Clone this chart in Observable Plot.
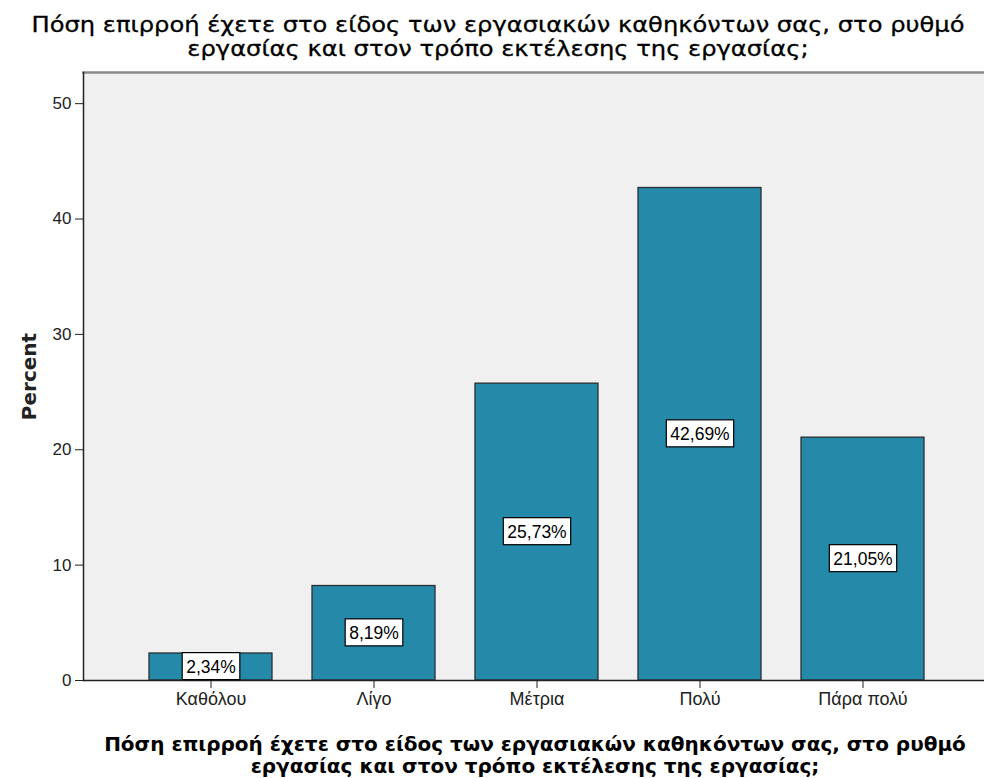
<!DOCTYPE html>
<html>
<head>
<meta charset="utf-8">
<script src="https://cdn.jsdelivr.net/npm/d3@7"></script>
<script src="https://cdn.jsdelivr.net/npm/@observablehq/plot@0.6"></script>
<style>
  html, body { margin: 0; padding: 0; background: #fff; }
  #wrap { width: 984px; height: 778px; position: relative; overflow: hidden; }
  .title {
    font-family: "DejaVu Sans", Verdana, sans-serif;
    font-size: 22px; line-height: 24px; height: 24px; color: #000; white-space: nowrap;
    -webkit-text-stroke: 0.3px #000;
    position: absolute; left: 0; width: 996px; text-align: center;
    transform: scaleX(1.1); transform-origin: 498px 0;
  }
  .xtitle {
    font-family: "DejaVu Sans", Verdana, sans-serif; font-weight: bold;
    font-size: 20px; line-height: 22px; color: #000; white-space: nowrap;
    text-align: center; position: absolute; left: 83px; width: 904px; top: 733px;
  }
  #chart { position: absolute; left: 0; top: 62px; }
  svg { display: block; }
</style>
</head>
<body>
<div id="wrap">
  <div class="title" style="top: 13px">Πόση επιρροή έχετε στο είδος των εργασιακών καθηκόντων σας, στο ρυθμό</div>
  <div class="title" style="top: 37px">εργασίας και στον τρόπο εκτέλεσης της εργασίας;</div>
  <div id="chart"></div>
  <div class="xtitle">Πόση επιρροή έχετε στο είδος των εργασιακών καθηκόντων σας, στο ρυθμό<br>εργασίας και στον τρόπο εκτέλεσης της εργασίας;</div>
</div>
<script>
// Response categories and their share of respondents (%)
const categories = ["Καθόλου", "Λίγο", "Μέτρια", "Πολύ", "Πάρα πολύ"];
const percents = [2.34, 8.19, 25.73, 42.69, 21.05];
const yTicks = [0, 10, 20, 30, 40, 50];

const data = categories.map((category, i) => ({category, percent: percents[i]}));
const fmt = (v) => v.toFixed(2).replace(".", ",") + "%";
const labelTexts = new Set(percents.map(fmt));

const chart = Plot.plot({
  width: 984,
  height: 650,
  marginTop: 10,
  marginLeft: 83,
  marginRight: 0,
  marginBottom: 32,
  style: {fontFamily: "'Liberation Sans', Arial, sans-serif", background: "transparent", color: "#000"},
  x: {domain: categories, range: [83, 989], paddingInner: 0.2468, paddingOuter: 0.397},
  y: {domain: [0, 52.7]},
  marks: [
    Plot.frame({fill: "#f0f0f0", stroke: null}),
    Plot.frame({anchor: "top", stroke: "#8a8a8a", strokeWidth: 2.5}),
    Plot.barY(data, {x: "category", y: "percent", fill: "#2589aa", stroke: "#2a2f33", strokeWidth: 1.3}),
    Plot.frame({anchor: "left", stroke: "#222", strokeWidth: 1.5}),
    Plot.ruleY([0], {stroke: "#222", strokeWidth: 1.5}),
    Plot.axisY({
      ticks: yTicks, tickSize: 8, tickPadding: 4, fontSize: 17, stroke: "#222", fill: "#222",
      label: "Percent", labelAnchor: "center", labelArrow: "none", labelOffset: 62
    }),
    Plot.axisX({tickSize: 8, tickPadding: 4, fontSize: 18, fill: "#222", stroke: "#222", label: null}),
    Plot.text(data, {
      x: "category", y: (d) => d.percent / 2, text: (d) => fmt(d.percent),
      fontSize: 17.5, fill: "#000"
    })
  ]
});
document.getElementById("chart").appendChild(chart);

// Style the y-axis title
chart.querySelectorAll('g[aria-label="y-axis label"] text').forEach((t) => {
  t.style.fontFamily = "'DejaVu Sans', Verdana, sans-serif";
  t.style.fontWeight = "bold";
  t.style.fontSize = "20px";
});

// White boxed value labels
chart.querySelectorAll("text").forEach((t) => {
  if (!labelTexts.has(t.textContent)) return;
  const b = t.getBBox();
  const r = document.createElementNS("http://www.w3.org/2000/svg", "rect");
  r.setAttribute("x", b.x - 4);
  r.setAttribute("y", b.y - 4);
  r.setAttribute("width", b.width + 8);
  r.setAttribute("height", b.height + 7);
  r.setAttribute("fill", "#fff");
  r.setAttribute("stroke", "#000");
  r.setAttribute("stroke-width", 1.2);
  if (t.getAttribute("transform")) r.setAttribute("transform", t.getAttribute("transform"));
  t.parentNode.insertBefore(r, t);
});
</script>
</body>
</html>
